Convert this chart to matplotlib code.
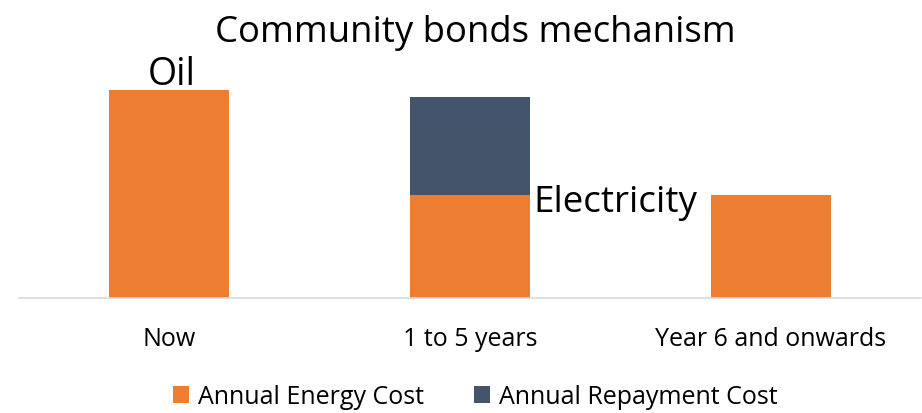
import matplotlib.pyplot as plt
import numpy as np

plt.rcParams["font.family"] = ["Open Sans", "DejaVu Sans"]

# values (no y axis shown, relative heights)
categories = ["Now", "1 to 5 years", "Year 6 and onwards"]
energy_cost = [208, 103, 103]
repayment_cost = [0, 98, 0]
bar_labels = ["Oil", "Electricity", ""]

orange = "#ED7D31"
slate = "#44546A"

fig = plt.figure(figsize=(9.22, 4.14), dpi=100)
ax = fig.add_axes([19 / 922, 1 - 299 / 414, 902 / 922, 239 / 414])

index = np.arange(len(categories))
width = 0.4
bar1 = ax.bar(index, energy_cost, width=width, color=orange, label="Annual Energy Cost")
bar2 = ax.bar(index, repayment_cost, width=width, bottom=energy_cost, color=slate,
              label="Annual Repayment Cost")

ax.set_xlim(-0.5, 2.5)
ax.set_ylim(0, 239)

# data labels
ax.annotate(bar_labels[0], xy=(index[0], energy_cost[0]), xytext=(1.5, 4.3),
            textcoords="offset points", ha="center", va="baseline", fontsize=27)
ax.annotate(bar_labels[1], xy=(index[1] + width / 2, energy_cost[1]), xytext=(2, -11.5),
            textcoords="offset points", ha="left", va="baseline", fontsize=26.5)

ax.set_xticks(index)
ax.set_xticklabels(categories, fontsize=18)
ax.tick_params(axis="x", length=0, pad=20)
ax.set_yticks([])
for s in ["top", "right", "left"]:
    ax.spines[s].set_visible(False)
ax.spines["bottom"].set_color("#D9D9D9")
ax.spines["bottom"].set_linewidth(1.2)

fig.text(475 / 922, 1 - 42 / 414, "Community bonds mechanism", ha="center", va="baseline",
         fontsize=26.3)

fig.legend(handles=[bar1, bar2], loc="center", bbox_to_anchor=(475 / 922, 1 - 398 / 414),
           ncol=2, frameon=False, fontsize=18, handlelength=0.64, handleheight=0.64,
           handletextpad=0.36, columnspacing=2.0, borderpad=0, borderaxespad=0)

fig.savefig("out.png", dpi=100)
